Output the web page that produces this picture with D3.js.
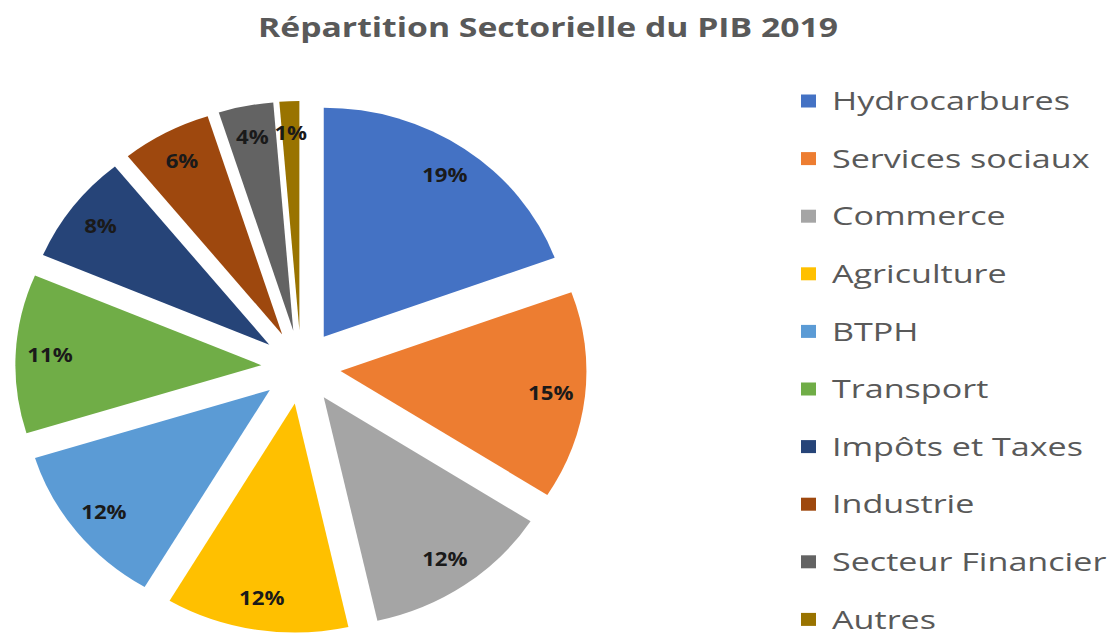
<!DOCTYPE html>
<html>
<head>
<meta charset="utf-8">
<script src="https://cdn.jsdelivr.net/npm/d3@7"></script>
<style>
  html, body { margin: 0; padding: 0; background: #ffffff; }
  svg { display: block; }
</style>
</head>
<body>
<svg id="chart" width="1115" height="635"></svg>
<script>
// ---- data ----
const title = "Répartition Sectorielle du PIB 2019";
const categories = ["Hydrocarbures", "Services sociaux", "Commerce", "Agriculture", "BTPH",
                    "Transport", "Impôts et Taxes", "Industrie", "Secteur Financier", "Autres"];
const shares = [19.4, 14.7, 12.4, 12.0, 11.7, 11.2, 7.8, 5.9, 3.6, 1.3];
const shareLabels = ["19%", "15%", "12%", "12%", "12%", "11%", "8%", "6%", "4%", "1%"];
const colors = ["#4472C4", "#ED7D31", "#A5A5A5", "#FFC000", "#5B9BD5",
                "#70AD47", "#264478", "#9E480E", "#636363", "#997300"];

// ---- layout ----
const svg = d3.select("#chart");
const cx = 301, cy = 367, R = 229, explode = 37, sx = 1.074;

const pie = d3.pie().sort(null).value(d => d.v);
const arcs = pie(categories.map((c, i) => ({ c, v: shares[i], i })));
const arc = d3.arc().innerRadius(0).outerRadius(R);

const g = svg.append("g").attr("transform", `translate(${cx},${cy}) scale(${sx},1)`);
g.selectAll("path").data(arcs).join("path")
  .attr("d", arc)
  .attr("fill", d => colors[d.data.i])
  .attr("transform", d => {
    const m = (d.startAngle + d.endAngle) / 2;
    return `translate(${explode * Math.sin(m)},${-explode * Math.cos(m)})`;
  });

// slice labels
const labR = explode + 197;
svg.append("g").selectAll("text").data(arcs).join("text")
  .attr("transform", d => {
    const m = (d.startAngle + d.endAngle) / 2;
    return `translate(${cx + sx * labR * Math.sin(m)},${cy - labR * Math.cos(m)}) scale(1.17,1)`;
  })
  .attr("text-anchor", "middle")
  .attr("dy", "0.36em")
  .attr("font-family", "Open Sans, sans-serif")
  .attr("font-weight", "bold")
  .attr("font-size", 19)
  .attr("fill", "#1a1a1a")
  .text(d => shareLabels[d.data.i]);

// title
svg.append("text")
  .attr("x", 258).attr("y", 37)
  .attr("font-family", "Open Sans, sans-serif")
  .attr("font-weight", "bold")
  .attr("font-size", 26)
  .attr("fill", "#595959")
  .attr("textLength", 580)
  .attr("lengthAdjust", "spacingAndGlyphs")
  .text(title);

// legend
const legY = d3.scaleBand().domain(categories).range([72.2, 648.2]).paddingInner(0);
const leg = svg.append("g");
const items = leg.selectAll("g").data(categories).join("g")
  .attr("transform", d => `translate(0,${legY(d) + legY.bandwidth() / 2})`);
items.append("rect")
  .attr("x", 801).attr("y", -6.5).attr("width", 15).attr("height", 13)
  .attr("fill", (d, i) => colors[i]);
const legText = items.append("text")
  .attr("x", 832).attr("dy", "0.36em")
  .attr("font-family", "Open Sans, sans-serif")
  .attr("font-size", 25.5)
  .attr("fill", "#595959")
  .text(d => d);
// horizontal stretch so the entries match the reference widths
const nat = legText.nodes().map(n => n.getComputedTextLength());
const k = 238 / nat[0];
legText.attr("textLength", (d, i) => nat[i] * k).attr("lengthAdjust", "spacingAndGlyphs");
</script>
</body>
</html>
